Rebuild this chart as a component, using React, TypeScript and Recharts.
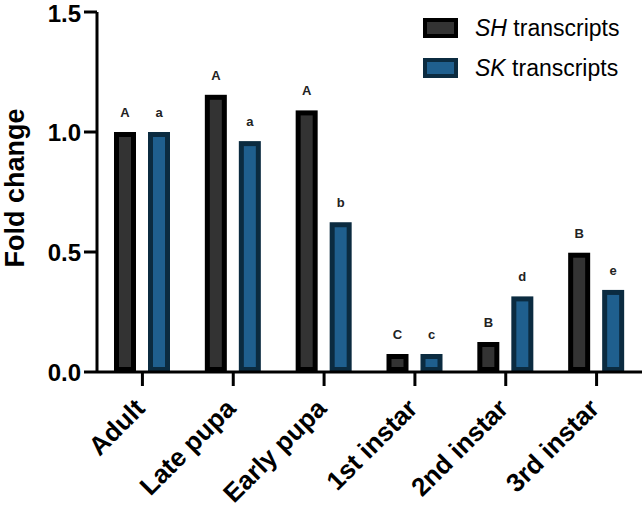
import React from 'react';
import { BarChart, Bar, XAxis, YAxis, Legend, LabelList, Label } from 'recharts';

const STAGES = ['Adult', 'Late pupa', 'Early pupa', '1st instar', '2nd instar', '3rd instar'];
const SH_VALUES = [1.0, 1.155, 1.09, 0.075, 0.125, 0.497];
const SK_VALUES = [1.0, 0.962, 0.624, 0.075, 0.315, 0.342];
const SH_LETTERS = ['A', 'A', 'A', 'C', 'B', 'B'];
const SK_LETTERS = ['a', 'a', 'b', 'c', 'd', 'e'];
const Y_TICKS = [0, 0.5, 1.0, 1.5];

const SERIES = [
  { key: 'sh', italic: 'SH', rest: ' transcripts', fill: '#333333', stroke: '#000000' },
  { key: 'sk', italic: 'SK', rest: ' transcripts', fill: '#1f5f8e', stroke: '#0b2b40' },
];

const FONT = '"Liberation Sans", Arial, Helvetica, sans-serif';

const data = STAGES.map((stage, i) => ({
  stage,
  sh: SH_VALUES[i],
  sk: SK_VALUES[i],
  shLetter: SH_LETTERS[i],
  skLetter: SK_LETTERS[i],
}));

// GraphPad style: border drawn inside the bar outline
const BorderedBar = (props: any) => {
  const { x, y, width, height, fill, stroke } = props;
  const sw = 5;
  if (!height || height <= 0) return null;
  return (
    <rect
      x={x + sw / 2}
      y={y + sw / 2}
      width={width - sw}
      height={Math.max(height - sw, 0)}
      fill={fill}
      stroke={stroke}
      strokeWidth={sw}
    />
  );
};

const letterLabel = (props: any) => {
  const { x, y, width, value } = props;
  return (
    <text x={x + width / 2} y={y - 15} textAnchor="middle" fontFamily={FONT} fontSize={13} fontWeight="bold" fill="#222">
      {value}
    </text>
  );
};

const StageTick = ({ x, y, payload }: any) => (
  <text
    x={0}
    y={0}
    transform={`translate(${x + 4},${y + 24}) rotate(-45)`}
    textAnchor="end"
    fontFamily={FONT}
    fontSize={26}
    fontWeight="bold"
    fill="#000"
  >
    {payload.value}
  </text>
);

const LegendBox = () => (
  <svg width={220} height={80}>
    {SERIES.map((s, i) => (
      <g key={s.key} transform={`translate(0, ${i * 40})`}>
        <rect x={5} y={10} width={31} height={16} fill={s.fill} stroke={s.stroke} strokeWidth={4} />
        <text x={55} y={26} fontFamily={FONT} fontSize={23} fill="#000">
          <tspan fontStyle="italic">{s.italic}</tspan>
          {s.rest}
        </text>
      </g>
    ))}
  </svg>
);

export default function App() {
  return (
    <div style={{ position: 'absolute', left: 0, top: 0, background: '#fff' }}>
      <BarChart
        width={642}
        height={508}
        data={data}
        margin={{ top: 12, right: 0, bottom: 0, left: 0 }}
        barSize={22}
        barGap={12}
      >
        <XAxis
          dataKey="stage"
          height={136}
          tickSize={14}
          tickMargin={0}
          interval={0}
          axisLine={{ stroke: '#000', strokeWidth: 3 }}
          tickLine={{ stroke: '#000', strokeWidth: 3 }}
          tick={<StageTick />}
        />
        <YAxis
          width={97}
          domain={[0, 1.5]}
          ticks={Y_TICKS}
          tickFormatter={(v: number) => v.toFixed(1)}
          tickSize={13}
          tickMargin={3}
          axisLine={{ stroke: '#000', strokeWidth: 3 }}
          tickLine={{ stroke: '#000', strokeWidth: 3 }}
          tick={{ fontSize: 24, fontWeight: 'bold', fill: '#000', fontFamily: FONT }}
        >
          <Label
            content={({ viewBox }: any) => {
              const cx = viewBox.x + 24;
              const cy = viewBox.y + viewBox.height / 2 - 4;
              return (
                <text
                  x={cx}
                  y={cy}
                  transform={`rotate(-90, ${cx}, ${cy})`}
                  textAnchor="middle"
                  fontFamily={FONT}
                  fontSize={27}
                  fontWeight="bold"
                  fill="#000"
                >
                  Fold change
                </text>
              );
            }}
          />
        </YAxis>
        <Legend
          layout="vertical"
          align="center"
          verticalAlign="middle"
          content={<LegendBox />}
          wrapperStyle={{ position: 'absolute', left: 420, top: 10, width: 220 }}
        />
        {SERIES.map((s) => (
          <Bar
            key={s.key}
            dataKey={s.key}
            name={s.italic + s.rest}
            fill={s.fill}
            stroke={s.stroke}
            isAnimationActive={false}
            shape={(p: any) => <BorderedBar {...p} fill={s.fill} stroke={s.stroke} />}
          >
            <LabelList dataKey={s.key + 'Letter'} content={letterLabel} />
          </Bar>
        ))}
      </BarChart>
    </div>
  );
}
